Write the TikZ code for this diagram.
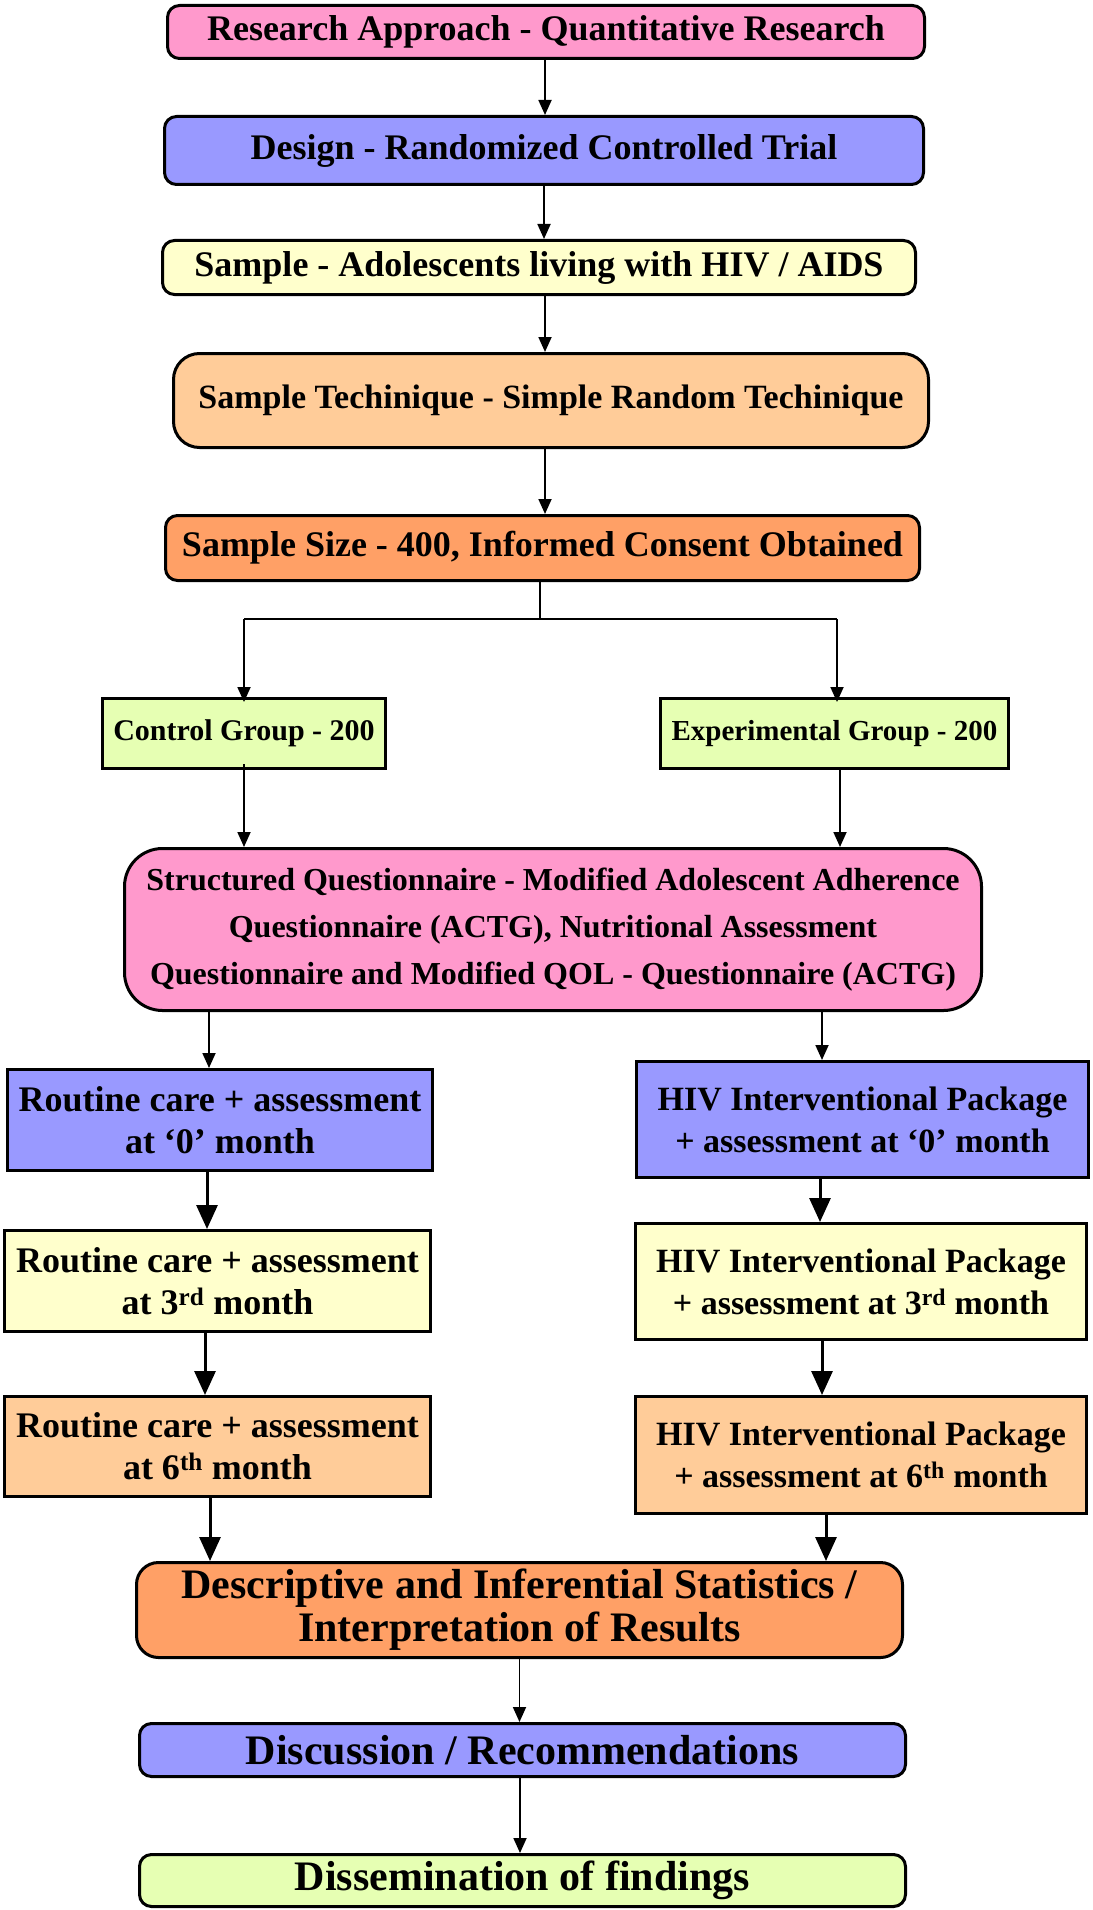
\documentclass[tikz,border=0pt]{standalone}
\usepackage{fontspec}
\setmainfont{Liberation Serif}
\usetikzlibrary{arrows.meta,calc}

\definecolor{cpink}{RGB}{255,153,204}
\definecolor{cblue}{RGB}{153,153,255}
\definecolor{cyel}{RGB}{255,255,204}
\definecolor{cpeach}{RGB}{255,204,153}
\definecolor{corange}{RGB}{255,160,102}
\definecolor{cgreen}{RGB}{230,255,179}

\newcommand\fsz[2]{\fontsize{#1}{#2}\selectfont}

\begin{document}
\begin{tikzpicture}[x=1pt,y=-1pt,
  box/.style={draw, line width=3pt, align=center, inner sep=0pt,
              font=\bfseries\fsz{36}{43}},
  rbox/.style={box, rounded corners=#1},
  rbox/.default=12pt,
  thinarr/.style={line width=1.8pt, -{Triangle[length=15pt,width=13pt]}},
  thickarr/.style={line width=3pt, -{Triangle[length=24pt,width=21pt]}},
  plainline/.style={line width=2pt}
]
\useasboundingbox (0,0) rectangle (1092,1910);

% main column
\node[rbox, fill=cpink, minimum width=757pt, minimum height=53pt] (n1) at (546,32)
  {Research Approach - Quantitative Research};
\node[rbox, fill=cblue, minimum width=759pt, minimum height=68pt] (n2) at (544,150.5)
  {Design - Randomized Controlled Trial};
\node[rbox, fill=cyel, minimum width=753pt, minimum height=54pt] (n3) at (539,267.5)
  {Sample - Adolescents living with HIV / AIDS};
\node[rbox=26pt, fill=cpeach, minimum width=755pt, minimum height=94pt,
      font=\bfseries\fsz{34}{40}] (n4) at (551,400.5)
  {Sample Techinique - Simple Random Techinique};
\node[rbox, fill=corange, minimum width=754pt, minimum height=65pt] (n5) at (542.5,548)
  {Sample Size - 400, Informed Consent Obtained};

% the two groups
\node[box, fill=cgreen, minimum width=283pt, minimum height=70pt,
      font=\bfseries\fsz{30}{36}] (ctrl) at (244,733.5) {Control Group - 200};
\node[box, fill=cgreen, minimum width=348pt, minimum height=70pt,
      font=\bfseries\fsz{29}{35}] (exp) at (834.5,733.5) {Experimental Group - 200};

\node[rbox=38pt, fill=cpink, minimum width=857pt, minimum height=162pt,
      font=\bfseries\fsz{32}{46.7}] (sq) at (553,929.5)
  {Structured Questionnaire - Modified Adolescent Adherence\\
   Questionnaire (ACTG), Nutritional Assessment\\
   Questionnaire and Modified QOL - Questionnaire (ACTG)};

% control arm
\node[box, fill=cblue, minimum width=425pt, minimum height=101pt,
      font=\bfseries\fsz{36}{42}] (r0) at (220,1120)
  {Routine care + assessment\\ at ‘0’ month};
\node[box, fill=cyel, minimum width=426pt, minimum height=101pt,
      font=\bfseries\fsz{36}{42}] (r3) at (217.5,1281)
  {Routine care + assessment\\ at 3\textsuperscript{rd} month};
\node[box, fill=cpeach, minimum width=426pt, minimum height=100pt,
      font=\bfseries\fsz{36}{42}] (r6) at (217.5,1446.5)
  {Routine care + assessment\\ at 6\textsuperscript{th} month};

% experimental arm
\node[box, fill=cblue, minimum width=452pt, minimum height=116pt,
      font=\bfseries\fsz{34}{42}] (h0) at (862.5,1119.5)
  {HIV Interventional Package\\ + assessment at ‘0’ month};
\node[box, fill=cyel, minimum width=451pt, minimum height=116pt,
      font=\bfseries\fsz{34}{42}] (h3) at (861,1281.5)
  {HIV Interventional Package\\ + assessment at 3\textsuperscript{rd} month};
\node[box, fill=cpeach, minimum width=451pt, minimum height=117pt,
      font=\bfseries\fsz{34}{42}] (h6) at (861,1455)
  {HIV Interventional Package\\ + assessment at 6\textsuperscript{th} month};

% closing column
\node[rbox=22pt, fill=corange, minimum width=766pt, minimum height=95pt,
      font=\bfseries\fsz{42}{43}] (desc) at (519.5,1610)
  {Descriptive and Inferential Statistics /\\ Interpretation of Results};
\node[rbox, fill=cblue, minimum width=766pt, minimum height=53pt,
      font=\bfseries\fsz{42}{46}] (disc) at (522.5,1750)
  {Discussion / Recommendations};
\node[rbox, fill=cgreen, minimum width=766pt, minimum height=52pt,
      font=\bfseries\fsz{42}{46}] (diss) at (522.5,1880.5)
  {Dissemination of findings};

% connectors of the main column
\draw[thinarr] ([xshift=-1pt]n1.south) -- ([xshift=-1pt]n1.south |- n2.north);
\draw[thinarr] (n2.south) -- (n2.south |- n3.north);
\draw[thinarr] ([xshift=6pt]n3.south) -- ([xshift=6pt]n3.south |- n4.north);
\draw[thinarr] ([xshift=-6pt]n4.south) -- ([xshift=-6pt]n4.south |- n5.north);

% split into the two groups
\coordinate (split) at ($(n5.south)+(-2.5,37)$);
\coordinate (splitL) at (ctrl.north |- split);
\coordinate (splitR) at ([xshift=2.5pt]exp.north |- split);
\draw[plainline] ([xshift=-2.5pt]n5.south) -- (split);
\draw[plainline] (splitL) -- (splitR);
\draw[thinarr] (splitL) -- ([yshift=-5pt]ctrl.north);
\draw[thinarr] (splitR) -- ([yshift=-5pt]splitR |- exp.north);

\draw[thinarr] ([yshift=6pt]ctrl.south) -- (ctrl.south |- sq.north);
\draw[thinarr] ([xshift=5.5pt]exp.south) -- ([xshift=5.5pt]exp.south |- sq.north);

% into the two arms
\draw[thinarr] ([xshift=-11pt]r0.north |- sq.south) -- ([xshift=-11pt]r0.north);
\draw[thinarr] ([xshift=-40.5pt]h0.north |- sq.south) -- ([xshift=-40.5pt]h0.north);

\draw[thickarr] ([xshift=-13pt]r0.south) -- ([xshift=-13pt]r0.south |- r3.north);
\draw[thickarr] ([xshift=-42.5pt]h0.south) -- ([xshift=-42.5pt]h0.south |- h3.north);
\draw[thickarr] ([xshift=-12.5pt]r3.south) -- ([xshift=-12.5pt]r3.south |- r6.north);
\draw[thickarr] ([xshift=-39pt]h3.south) -- ([xshift=-39pt]h3.south |- h6.north);

\draw[thickarr] ([xshift=-7.5pt]r6.south) -- ([xshift=-7.5pt]r6.south |- desc.north);
\draw[thickarr] ([xshift=-35pt]h6.south) -- ([xshift=-35pt]h6.south |- desc.north);

% closing column
\draw[thinarr] (desc.south) -- (desc.south |- disc.north);
\draw[thinarr] ([xshift=-2.5pt]disc.south) -- ([xshift=-2.5pt]disc.south |- diss.north);
\end{tikzpicture}
\end{document}
